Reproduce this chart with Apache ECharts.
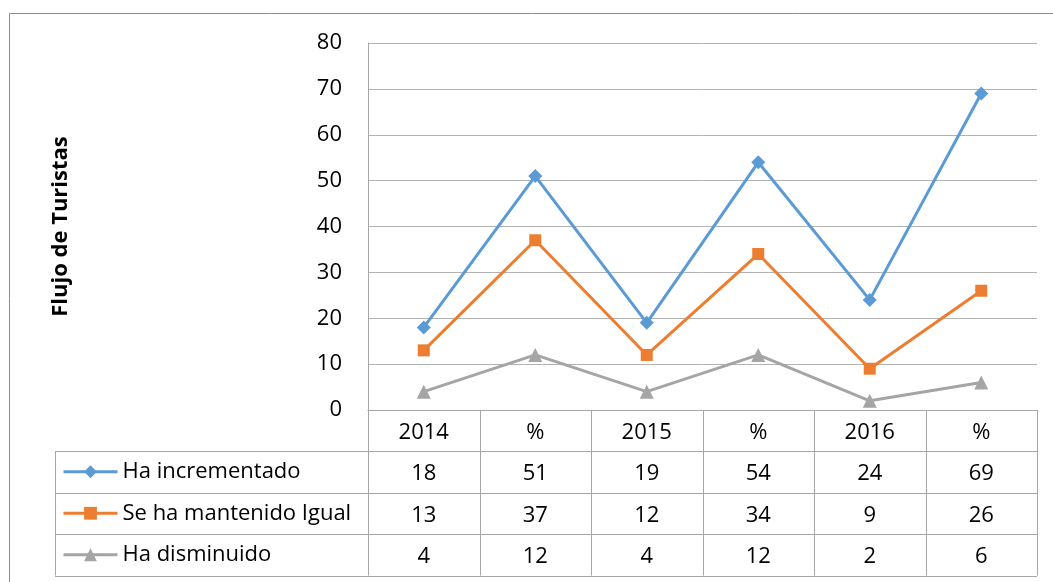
<!DOCTYPE html>
<html><head><meta charset="utf-8">
<script src="https://cdn.jsdelivr.net/npm/echarts@6/dist/echarts.min.js"></script>
<style>html,body{margin:0;padding:0;background:#fff}#c{width:1053px;height:582px}</style>
</head><body><div id="c"></div>
<script>
var categories = ['2014', '%', '2015', '%', '2016', '%'];
var seriesNames = ['Ha incrementado', 'Se ha mantenido Igual', 'Ha disminuido'];
var incrementado = [18, 51, 19, 54, 24, 69];
var mantenido = [13, 37, 12, 34, 9, 26];
var disminuido = [4, 12, 4, 12, 2, 6];
var yTicks = [0, 10, 20, 30, 40, 50, 60, 70, 80];

var FONT = '"Open Sans", "Noto Sans", sans-serif';
var gridL = 368, gridR = 1037, gridT = 43, gridB = 410;
var rowH = 41.5, headH = 41;
var tableL = 55;
var lineC = '#a6a6a6';

var colors = ['#5B9BD5', '#ED7D31', '#A5A5A5'];
var rows = [incrementado, mantenido, disminuido];

var xAxes = [{
  type: 'category', data: categories, gridIndex: 0, position: 'bottom', boundaryGap: true,
  axisLine: {show: true, lineStyle: {color: lineC}}, axisTick: {show: false}, splitLine: {show: false},
  axisLabel: {color: '#000', fontSize: 22, fontFamily: FONT, margin: 12}
}];
rows.forEach(function (arr, r) {
  xAxes.push({
    type: 'category', data: categories, gridIndex: 0, position: 'bottom', boundaryGap: true,
    offset: headH + rowH * r,
    axisLine: {show: false}, axisTick: {show: false}, splitLine: {show: false},
    axisLabel: {color: '#000', fontSize: 22, fontFamily: FONT, margin: 12,
      formatter: (function (a) { return function (v, i) { return String(a[i]); }; })(arr)}
  });
});

var graphics = [];
graphics.push({type: 'rect', shape: {x: 9.5, y: 13.5, width: 1200, height: 800}, style: {fill: 'none', stroke: '#8c8c8c', lineWidth: 1}, z: 0});
var colW = (gridR - gridL) / categories.length;
var tableBottom = gridB + headH + rowH * 3;
for (var i = 0; i <= categories.length; i++) {
  var x = Math.round(gridL + colW * i) + 0.5;
  graphics.push({type: 'line', shape: {x1: x, y1: gridB, x2: x, y2: tableBottom}, style: {stroke: lineC, lineWidth: 1}});
}
for (var r = 0; r <= 3; r++) {
  var y = Math.round(gridB + headH + rowH * r) + 0.5;
  graphics.push({type: 'line', shape: {x1: tableL, y1: y, x2: gridR, y2: y}, style: {stroke: lineC, lineWidth: 1}});
}
graphics.push({type: 'line', shape: {x1: tableL + 0.5, y1: gridB + headH, x2: tableL + 0.5, y2: tableBottom}, style: {stroke: lineC, lineWidth: 1}});

var symbols = ['diamond', 'rect', 'triangle'];
var sizes = [14, 12, 14];
var series = rows.map(function (arr, k) {
  return {
    name: seriesNames[k], type: 'line', data: arr, xAxisIndex: 0,
    symbol: symbols[k], symbolSize: sizes[k], showAllSymbol: true,
    lineStyle: {color: colors[k], width: 3}, itemStyle: {color: colors[k]},
    emphasis: {disabled: true}, animation: false
  };
});

var legends = seriesNames.map(function (n, k) {
  var center = gridB + headH + rowH * k + rowH / 2;
  return {
    orient: 'horizontal', left: 62, top: center - 11, padding: 0,
    itemWidth: 54, itemHeight: 16,
    lineStyle: {width: 3},
    textStyle: {color: '#000', fontSize: 22, fontFamily: FONT, lineHeight: 22},
    data: [n], selectedMode: false
  };
});

var chart = echarts.init(document.getElementById('c'), null, {renderer: 'canvas'});
chart.setOption({
  animation: false,
  grid: {left: gridL, top: gridT, width: gridR - gridL, height: gridB - gridT, containLabel: false},
  xAxis: xAxes,
  yAxis: {
    type: 'value', min: yTicks[0], max: yTicks[yTicks.length - 1], interval: 10,
    axisLine: {show: true, lineStyle: {color: lineC}}, axisTick: {show: false},
    splitLine: {show: true, lineStyle: {color: '#b3b3b3', width: 1}},
    axisLabel: {color: '#000', fontSize: 22, fontFamily: FONT, margin: 26},
    name: 'Flujo de Turistas', nameLocation: 'middle', nameGap: 296,
    nameTextStyle: {color: '#000', fontSize: 22, fontWeight: 'bold', fontFamily: FONT}
  },
  legend: legends,
  graphic: graphics,
  series: series
});
</script></body></html>
